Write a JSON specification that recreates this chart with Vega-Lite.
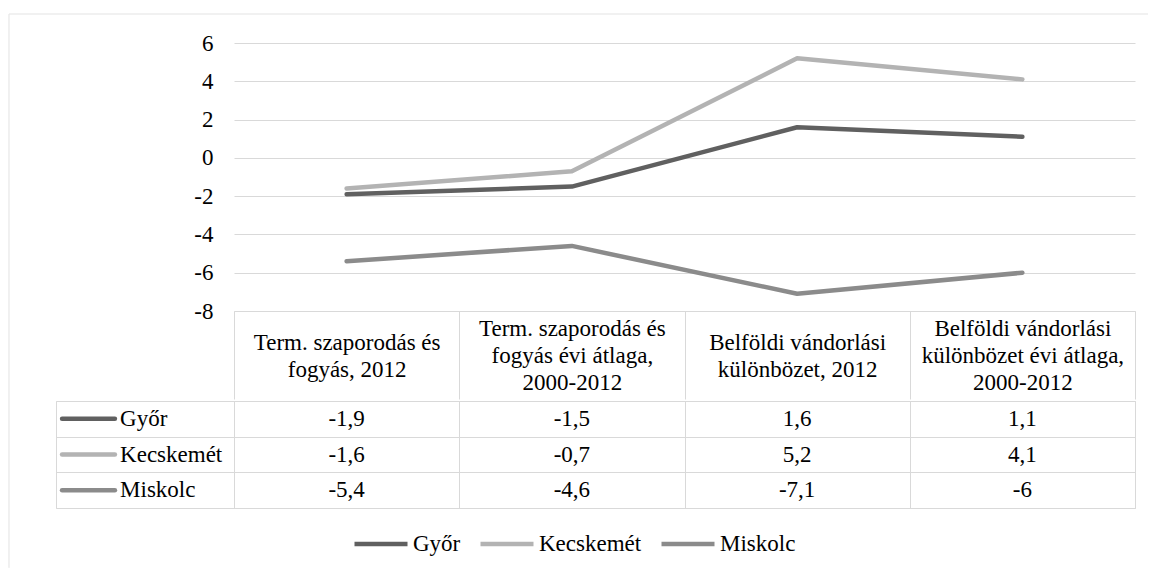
{
  "$schema": "https://vega.github.io/schema/vega-lite/v6.json",
  "padding": {"left": 55, "top": 13, "right": 0, "bottom": 0},
  "background": "white",
  "spacing": 0,
  "config": {
    "font": "Liberation Serif, Times New Roman, DejaVu Serif, serif",
    "view": {"stroke": null},
    "locale": {"number": {"decimal": ",", "thousands": " ", "grouping": [3], "currency": ["", ""], "minus": "-"}},
    "concat": {"spacing": 0},
    "axis": {"labelFont": "Liberation Serif, Times New Roman, DejaVu Serif, serif", "labelFontSize": 23, "labelColor": "#000000"},
    "legend": {"labelFont": "Liberation Serif, Times New Roman, DejaVu Serif, serif", "labelFontSize": 23, "labelColor": "#000000"}
  },
  "datasets": {
    "d": [
      {"city": "Győr", "category": "Term. szaporodás és\nfogyás, 2012", "value": -1.9},
      {"city": "Győr", "category": "Term. szaporodás és\nfogyás évi átlaga,\n2000-2012", "value": -1.5},
      {"city": "Győr", "category": "Belföldi vándorlási\nkülönbözet, 2012", "value": 1.6},
      {"city": "Győr", "category": "Belföldi vándorlási\nkülönbözet évi átlaga,\n2000-2012", "value": 1.1},
      {"city": "Kecskemét", "category": "Term. szaporodás és\nfogyás, 2012", "value": -1.6},
      {"city": "Kecskemét", "category": "Term. szaporodás és\nfogyás évi átlaga,\n2000-2012", "value": -0.7},
      {"city": "Kecskemét", "category": "Belföldi vándorlási\nkülönbözet, 2012", "value": 5.2},
      {"city": "Kecskemét", "category": "Belföldi vándorlási\nkülönbözet évi átlaga,\n2000-2012", "value": 4.1},
      {"city": "Miskolc", "category": "Term. szaporodás és\nfogyás, 2012", "value": -5.4},
      {"city": "Miskolc", "category": "Term. szaporodás és\nfogyás évi átlaga,\n2000-2012", "value": -4.6},
      {"city": "Miskolc", "category": "Belföldi vándorlási\nkülönbözet, 2012", "value": -7.1},
      {"city": "Miskolc", "category": "Belföldi vándorlási\nkülönbözet évi átlaga,\n2000-2012", "value": -6}
    ]
  },
  "vconcat": [
    {
      "spacing": 0,
      "hconcat": [
        {
          "width": 1,
          "height": 268,
          "data": {"values": []},
          "mark": {"type": "point", "filled": false, "color": "#d9d9d9", "strokeWidth": 1},
          "encoding": {
            "shape": {
              "datum": "border", "type": "nominal",
              "scale": {"domain": ["border"], "range": ["M-2.0541,0.996V-1H2.0505"]},
              "legend": {
                "title": null, "orient": "none", "legendX": 245, "legendY": -29.5,
                "symbolSize": 308025, "symbolStrokeColor": "#d9d9d9", "symbolFillColor": "transparent",
                "symbolStrokeWidth": 1, "labelExpr": "''", "padding": 0
              }
            }
          }
        },
        {
          "width": 901,
          "height": 268,
          "data": {"name": "d"},
          "mark": {"type": "line", "strokeWidth": 4.5, "strokeCap": "round", "strokeJoin": "round"},
          "encoding": {
            "x": {
              "field": "category", "type": "nominal", "sort": null, "bandPosition": 0.5,
              "scale": {"type": "band", "paddingInner": 0, "paddingOuter": 0},
              "axis": {
                "title": null, "orient": "bottom", "grid": false,
                "domainColor": "#d9d9d9", "domainWidth": 1,
                "ticks": true, "tickColor": "#d9d9d9", "tickWidth": 1, "tickSize": 88, "tickBand": "extent",
                "labelExpr": "split(datum.label, '\\n')", "labelAngle": 0, "labelBaseline": "middle",
                "labelPadding": {"condition": {"test": "length(split(datum.label, '\\n')) > 2", "value": -71}, "value": -56.5},
                "labelLineHeight": 27, "labelLimit": 0,
                "minExtent": 88, "maxExtent": 88
              }
            },
            "y": {
              "field": "value", "type": "quantitative",
              "scale": {"domain": [-8, 6], "nice": false, "zero": false},
              "axis": {
                "title": null, "values": [-8, -6, -4, -2, 0, 2, 4, 6],
                "grid": true, "gridColor": "#d9d9d9", "gridWidth": 1,
                "domain": false, "ticks": false, "labelPadding": 21,
                "minExtent": 177, "maxExtent": 177
              }
            },
            "color": {
              "field": "city", "type": "nominal",
              "scale": {"domain": ["Győr", "Kecskemét", "Miskolc"], "range": ["#606060", "#b3b3b3", "#8b8b8b"]},
              "legend": {
                "title": null, "orient": "none", "legendX": 296, "legendY": 472, "direction": "horizontal",
                "symbolType": "stroke", "symbolSize": 2809, "symbolStrokeWidth": 4.5,
                "columnPadding": 10, "labelOffset": 3, "padding": 0
              }
            }
          }
        }
      ]
    },
    {
      "spacing": 0,
      "bounds": "flush",
      "hconcat": [
        {
          "width": 178,
          "height": 107,
          "view": {"stroke": "#d9d9d9"},
          "data": {"name": "d"},
          "transform": [{"aggregate": [], "groupby": ["city"]}],
          "encoding": {
            "y": {
              "field": "city", "type": "nominal", "sort": ["Győr", "Kecskemét", "Miskolc"], "bandPosition": 0.5,
              "scale": {"type": "band", "paddingInner": 0, "paddingOuter": 0},
              "axis": {"title": null, "labels": false, "ticks": false, "domain": false, "grid": true, "tickBand": "extent", "gridColor": "#d9d9d9", "minExtent": 0, "maxExtent": 0}
            }
          },
          "layer": [
            {
              "mark": {"type": "rule", "strokeWidth": 4.5, "strokeCap": "round"},
              "encoding": {
                "x": {"datum": 0.034, "type": "quantitative", "scale": {"domain": [0, 1]}, "axis": null},
                "x2": {"datum": 0.331},
                "color": {
                  "field": "city", "type": "nominal",
                  "scale": {"domain": ["Győr", "Kecskemét", "Miskolc"], "range": ["#606060", "#b3b3b3", "#8b8b8b"]},
                  "legend": {
                    "title": null, "orient": "none", "legendX": 296, "legendY": 472, "direction": "horizontal",
                    "symbolType": "stroke", "symbolSize": 2809, "symbolStrokeWidth": 4.5,
                    "columnPadding": 10, "labelOffset": 3, "padding": 0
                  }
                }
              }
            },
            {
              "mark": {"type": "text", "align": "left", "baseline": "middle", "fontSize": 23, "color": "#000000"},
              "encoding": {
                "x": {"datum": 0.36, "type": "quantitative", "scale": {"domain": [0, 1]}, "axis": null},
                "text": {"field": "city", "type": "nominal"}
              }
            }
          ]
        },
        {
          "width": 901,
          "height": 107,
          "view": {"stroke": "#d9d9d9"},
          "data": {"name": "d"},
          "mark": {"type": "text", "align": "center", "baseline": "middle", "fontSize": 23, "color": "#000000"},
          "encoding": {
            "x": {
              "field": "category", "type": "nominal", "sort": null, "bandPosition": 0.5,
              "scale": {"type": "band", "paddingInner": 0, "paddingOuter": 0},
              "axis": {"title": null, "labels": false, "ticks": false, "domain": false, "grid": true, "tickBand": "extent", "gridColor": "#d9d9d9", "minExtent": 0, "maxExtent": 0}
            },
            "y": {
              "field": "city", "type": "nominal", "sort": ["Győr", "Kecskemét", "Miskolc"], "bandPosition": 0.5,
              "scale": {"type": "band", "paddingInner": 0, "paddingOuter": 0},
              "axis": {"title": null, "labels": false, "ticks": false, "domain": false, "grid": true, "tickBand": "extent", "gridColor": "#d9d9d9", "minExtent": 0, "maxExtent": 0}
            },
            "text": {"field": "value", "type": "quantitative", "format": ".1~f"}
          }
        }
      ]
    }
  ]
}
